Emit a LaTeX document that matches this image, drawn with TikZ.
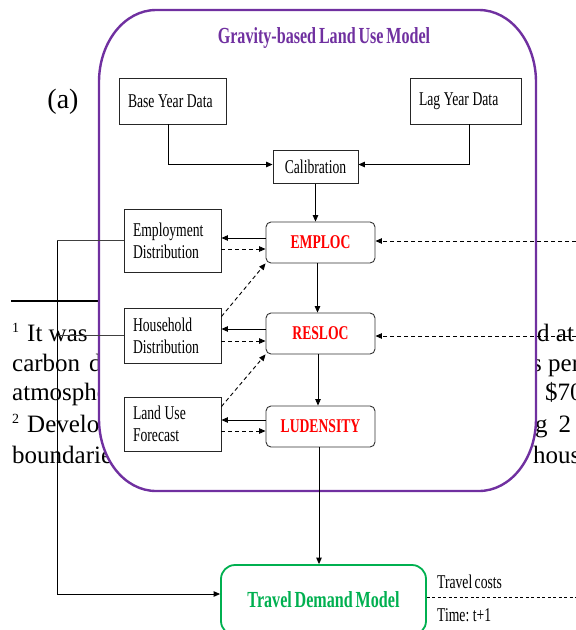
\documentclass[tikz,border=0pt]{standalone}
\usepackage{fontspec}
\setmainfont{Liberation Serif}
\newfontfamily\dfont[FakeStretch=0.7, WordSpace=0.7]{Liberation Serif}
\usetikzlibrary{arrows.meta}
\definecolor{gpurple}{HTML}{7030A0}
\definecolor{ggreen}{HTML}{00B050}
\newcommand\wsp{\spaceskip=3.6pt\relax}
\tikzset{
  dtext/.style={font=\dfont\fontsize{19.5}{22}\selectfont},
  databox/.style={draw=black!85, line width=0.9pt, fill=white, dtext, inner xsep=9pt, inner ysep=0pt, align=left},
  modelbox/.style={draw=black!80, line width=0.9pt, fill=white, rounded corners=5pt, minimum width=109pt, minimum height=41pt, inner sep=0pt, font=\dfont\bfseries\fontsize{19.5}{22}\selectfont, text=red},
  arr/.style={-{Triangle[length=6.5pt,width=5.5pt]}, line width=0.9pt},
  dsh/.style={dash pattern=on 4pt off 3pt},
  conn/.style={draw=black!75, line width=0.9pt},
  bgtext/.style={font=\fontsize{25}{25}\selectfont, anchor=base west, inner sep=0pt},
  sup/.style={font=\fontsize{14}{14}\selectfont, anchor=base west, inner sep=0pt},
}
\begin{document}
\begin{tikzpicture}[x=1pt,y=-1pt]
\path[use as bounding box] (0,0) rectangle (576,630);
\clip (0,0) rectangle (576,630);
% background page text
\node[sup] (s1) at (12,332) {1};
\node[bgtext] (t1) at (27,341) {It was\hspace{16pt}assumed};
\node[bgtext] (t2) at (12,371) {carbon\hspace{9pt}dioxide};
\node[bgtext] (t3) at (12,400) {atmosphere};
\node[sup] (s2) at (12,423) {2};
\node[bgtext] (t4) at (27,432) {Developed};
\node[bgtext] (t5) at (12,463) {boundaries};
\node[bgtext] (u1) at (537,341) {d at the};
\node[bgtext] (u2) at (532,371) {s per};
\node[bgtext] (u3) at (545,400) {\$70};
\node[bgtext] (u4) at (535,432) {g\hspace{11pt}2};
\node[bgtext] (u5) at (533,463) {hous};
\draw[line width=1.5pt] (11,301) -- (160,301);
% main rounded container
\draw[gpurple, line width=2.4pt, fill=white]
  (99,82) .. controls (99,42.2) and (124.5,10) .. (156,10) -- (479,10)
  .. controls (510.5,10) and (536,42.2) .. (536,82) -- (536,419)
  .. controls (536,458.8) and (510.5,491) .. (479,491) -- (156,491)
  .. controls (124.5,491) and (99,458.8) .. (99,419) -- cycle;
\node[font=\dfont\bfseries\fontsize{23}{26}\selectfont, text=gpurple] (title) at (324,38) {Gravity-based Land Use Model};
\node[font=\fontsize{28}{28}\selectfont, inner sep=0pt] (lbl) at (63,102) {(a)};
% boxes
\node[databox, text width=89pt, minimum height=46pt] (base) at (172.5,101) {\wsp Base Year Data};
\node[databox, text width=93pt, minimum height=46pt] (lag) at (465.5,101) {\wsp Lag Year Data};
\node[draw=black!85, line width=0.9pt, fill=white, dtext, minimum width=85pt, minimum height=33pt, inner sep=0pt] (calib) at (315.5,167) {Calibration};
\node[modelbox] (emploc) at (320.5,242.5) {EMPLOC};
\node[modelbox] (resloc) at (320.5,333.5) {RESLOC};
\node[modelbox] (lud) at (320.5,426.5) {LUDENSITY};
\node[databox, text width=79pt, minimum height=63pt] (emp) at (172.5,240.5) {Employment\\Distribution};
\node[databox, text width=79pt, minimum height=55pt] (hh) at (172.5,335.5) {Household\\Distribution};
\node[databox, text width=79pt, minimum height=54pt] (lu) at (172.5,424) {\wsp Land Use\\Forecast};
\node[draw=ggreen, line width=1.8pt, rounded corners=14pt, minimum width=205pt, minimum height=70pt, fill=white, inner sep=0pt, font=\dfont\bfseries\fontsize{23}{26}\selectfont, text=ggreen] (tdm) at (323.5,600) {Travel Demand Model\hspace{9pt}};
\node[dtext, anchor=west, inner sep=0pt] (tc) at (437,582) {Travel costs};
\node[dtext, anchor=west, inner sep=0pt] (tt) at (437,615) {Time: t+1};
% coordinates for free ends
\coordinate (r1) at (576,241);
\coordinate (r2) at (576,336);
\coordinate (r3) at (576,597);
\coordinate (lt) at (57,240.5);
% connectors
\draw[arr] ([xshift=-4.5pt]base.south) |- ([yshift=2.5pt]calib.west);
\draw[arr] ([xshift=3.5pt]lag.south) |- ([yshift=2.5pt]calib.east);
\draw[arr] (calib.south) -- (calib.south |- emploc.north);
\draw[arr] ([xshift=-3pt]emploc.south) -- ([xshift=-3pt]resloc.north);
\draw[arr] ([xshift=-2.5pt]resloc.south) -- ([xshift=-2.5pt]lud.north);
\draw[arr] ([xshift=-1.5pt]lud.south) -- ([xshift=-1.5pt]lud.south |- tdm.north);
\draw[arr] ([yshift=4.5pt]emploc.west) -- ([yshift=4.5pt]emploc.west -| emp.east);
\draw[arr,dsh] ([yshift=-6.5pt]emploc.west -| emp.east) -- ([yshift=-6.5pt]emploc.west);
\draw[arr] ([yshift=4.5pt]resloc.west) -- ([yshift=4.5pt]resloc.west -| hh.east);
\draw[arr,dsh] ([yshift=-7.5pt]resloc.west -| hh.east) -- ([yshift=-7.5pt]resloc.west);
\draw[arr] ([yshift=6.5pt]lud.west) -- ([yshift=6.5pt]lud.west -| lu.east);
\draw[arr,dsh] ([yshift=-4.5pt]lud.west -| lu.east) -- ([yshift=-4.5pt]lud.west);
\draw[arr,dsh] ([yshift=-9pt]hh.north east) -- (emploc.south west);
\draw[arr,dsh] ([yshift=-10pt]lu.north east) -- (resloc.south west);
\draw[arr,dsh] (r1) -- (r1 -| emploc.east);
\draw[arr,dsh] (r2) -- (r2 -| resloc.east);
\draw[conn] (emp.west) -- (lt);
\draw[conn] (hh.west) -- (hh.west -| lt);
\draw[arr] (lt) |- ([yshift=6pt]tdm.west);
\draw[line width=0.9pt, dash pattern=on 3pt off 2.5pt] ([yshift=3pt]tdm.east) -- (r3);
\end{tikzpicture}
\end{document}
